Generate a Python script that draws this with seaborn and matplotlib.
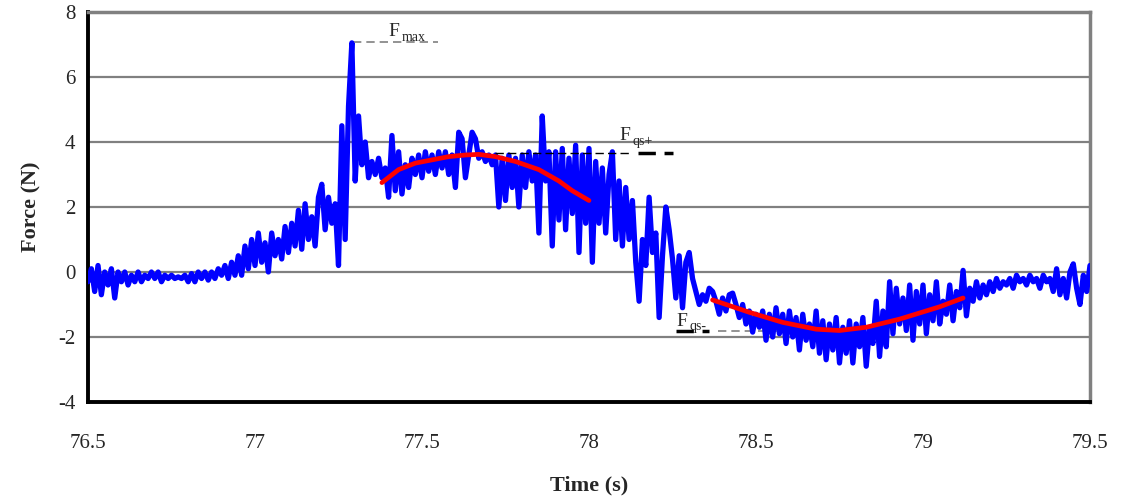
import numpy as np
import pandas as pd
import matplotlib
matplotlib.use("Agg")
import matplotlib.pyplot as plt
import seaborn as sns

# force signal, sampled every 0.01 s from 76.50 s to 79.50 s
t_start = 76.50
dt = 0.01
force = [
    -0.3, 0.1, -0.6, 0.2, -0.7, 0.0, -0.4, 0.1, -0.8, 0.0,
    -0.3, 0.0, -0.4, -0.1, -0.3, 0.0, -0.3, -0.1, -0.2, 0.0,
    -0.2, 0.0, -0.3, -0.1, -0.2, -0.1, -0.2, -0.15, -0.2, -0.1,
    -0.3, -0.05, -0.3, 0.0, -0.2, 0.0, -0.25, 0.0, -0.2, 0.1,
    -0.1, 0.2, -0.2, 0.3, -0.1, 0.5, -0.1, 0.8, 0.1, 1.0,
    0.2, 1.2, 0.3, 0.9, 0.0, 1.2, 0.5, 1.0, 0.4, 1.4,
    0.6, 1.5, 0.8, 1.9, 0.7, 2.1, 1.0, 1.7, 0.8, 2.3,
    2.7, 1.3, 2.3, 1.5, 2.1, 0.2, 4.5, 1.0, 5.1, 7.05,
    2.8, 4.8, 3.3, 4.0, 2.9, 3.4, 3.0, 3.5, 2.9, 3.2,
    2.3, 4.2, 2.5, 3.7, 2.4, 3.3, 2.6, 3.5, 3.0, 3.6,
    2.9, 3.7, 3.1, 3.6, 3.0, 3.7, 3.2, 3.7, 3.0, 3.6,
    2.6, 4.3, 4.1, 2.9, 3.6, 4.3, 4.1, 3.5, 3.7, 3.4,
    3.6, 3.3, 3.6, 2.0, 3.5, 2.2, 3.6, 2.6, 3.5, 2.0,
    3.6, 2.6, 3.7, 2.8, 3.6, 1.2, 4.8, 2.8, 3.7, 0.8,
    3.7, 1.6, 3.8, 1.3, 3.5, 1.8, 3.9, 0.6, 3.6, 1.5,
    3.8, 0.3, 3.4, 1.5, 3.2, 1.2, 3.0, 3.7, 1.0, 2.8,
    0.8, 2.6, 1.0, 2.2, 0.3, -0.9, 1.0, 0.2, 2.3, 0.6,
    1.2, -1.4, 0.5, 2.0, 1.3, 0.4, -0.8, 0.5, -1.1, 0.3,
    0.6, -0.2, -0.6, -1.0, -0.7, -0.9, -0.5, -0.6, -0.9, -1.3,
    -0.8, -1.2, -0.7, -0.65, -1.0, -1.4, -1.0, -1.6, -1.2, -1.85,
    -1.3, -1.7, -1.2, -2.1, -1.3, -2.0, -1.1, -1.9, -1.3, -2.2,
    -1.2, -2.0, -1.4, -2.4, -1.3, -2.1, -1.6, -2.3, -1.2, -2.5,
    -1.5, -2.7, -1.6, -2.4, -1.4, -2.8, -1.7, -2.5, -1.5, -2.8,
    -1.6, -2.3, -1.4, -2.9, -1.7, -2.2, -0.9, -2.6, -1.2, -2.3,
    -0.3, -1.9, -0.5, -1.6, -0.8, -1.8, -0.4, -2.1, -0.6, -1.6,
    -0.4, -1.9, -0.7, -1.5, -0.3, -1.6, -0.9, -1.3, -0.4, -1.5,
    -0.6, -1.1, 0.05, -1.35, -0.5, -0.9, -0.3, -0.8, -0.4, -0.7,
    -0.3, -0.6, -0.2, -0.5, -0.3, -0.4, -0.2, -0.5, -0.1, -0.3,
    -0.2, -0.4, -0.1, -0.3, -0.2, -0.5, -0.1, -0.3, -0.2, -0.6,
    0.1, -0.7, -0.2, -0.8, 0.0, 0.25, -0.5, -1.0, -0.1, -0.6, 0.2,
]

# quasi-static fits (red)
fit_pos_t = [77.38, 77.43, 77.48, 77.53, 77.58, 77.63, 77.67, 77.72, 77.78, 77.85, 77.91, 77.95, 78.00]
fit_pos_f = [2.75, 3.15, 3.35, 3.45, 3.55, 3.60, 3.62, 3.55, 3.40, 3.15, 2.80, 2.50, 2.20]
fit_neg_t = [78.37, 78.48, 78.58, 78.68, 78.75, 78.83, 78.93, 79.05, 79.12]
fit_neg_f = [-0.86, -1.24, -1.55, -1.76, -1.80, -1.70, -1.45, -1.07, -0.80]

# reference levels
f_max = 7.08
f_qs_pos = 3.66
f_qs_neg = -1.82

x_ticks = [76.5, 77.0, 77.5, 78.0, 78.5, 79.0, 79.5]
x_tick_labels = ["76.5", "77", "77.5", "78", "78.5", "79", "79.5"]
y_ticks = [-4, -2, 0, 2, 4, 6, 8]

time = t_start + dt * np.arange(len(force))
signal_df = pd.DataFrame({"time": time, "force": force})
fit_pos_df = pd.DataFrame({"time": fit_pos_t, "force": fit_pos_f})
fit_neg_df = pd.DataFrame({"time": fit_neg_t, "force": fit_neg_f})

sns.set_style("white")
plt.rcParams["font.family"] = ["Liberation Serif", "DejaVu Serif"]
plt.rcParams["axes.unicode_minus"] = False


def level_label(ax, x, y, sub):
    # "F" with a small subscript, drawn as two plain texts
    ax.annotate("F", xy=(x, y), xytext=(0, 0), textcoords="offset points",
                ha="left", va="baseline", fontsize=14)
    ax.annotate(sub, xy=(x, y), xytext=(9.5, -3), textcoords="offset points",
                ha="left", va="baseline", fontsize=10)


fig = plt.figure(figsize=(11.22, 5.04), dpi=100)
ax = fig.add_axes([88 / 1122, 1 - 402 / 504, 1002 / 1122, 390 / 504])

sns.lineplot(data=signal_df, x="time", y="force", ax=ax, color="#0000ff",
             linewidth=3.8, sort=False, estimator=None, zorder=3)
sns.lineplot(data=fit_pos_df, x="time", y="force", ax=ax, color="#ff0000",
             linewidth=3.4, sort=False, estimator=None, zorder=4)
sns.lineplot(data=fit_neg_df, x="time", y="force", ax=ax, color="#ff0000",
             linewidth=3.4, sort=False, estimator=None, zorder=4)

# F_max marker
ax.plot([77.293, 77.548], [f_max, f_max], color="#808080", lw=1.2,
        ls=(0, (5, 3)), zorder=2)
level_label(ax, 77.40, 7.25, "max")

# F_qs+ marker
ax.plot([77.72, 78.125], [f_qs_pos, f_qs_pos], color="black", lw=1.0,
        ls=(0, (6, 3)), zorder=5)
ax.plot([78.147, 78.25], [f_qs_pos, f_qs_pos], color="black", lw=2.5,
        ls=(0, (5, 2.5)), zorder=5)
level_label(ax, 78.09, 4.05, "qs+")

# F_qs- marker
ax.plot([78.26, 78.36], [f_qs_neg, f_qs_neg], color="black", lw=2.5,
        ls=(0, (5, 2.5)), zorder=5)
ax.plot([78.385, 78.76], [f_qs_neg, f_qs_neg], color="#808080", lw=1.2,
        ls=(0, (5, 3)), zorder=2)
level_label(ax, 78.262, -1.67, "qs-")

ax.set_xlim(76.5, 79.5)
ax.set_ylim(-4, 8)
ax.set_xticks(x_ticks)
ax.set_xticklabels(x_tick_labels)
ax.set_yticks(y_ticks)
ax.yaxis.grid(True, color="#808080", linewidth=1.6)
ax.set_axisbelow(True)

for side in ["left", "bottom"]:
    ax.spines[side].set_color("black")
    ax.spines[side].set_linewidth(2.8)
for side in ["top", "right"]:
    ax.spines[side].set_color("#808080")
    ax.spines[side].set_linewidth(2.5)

ax.tick_params(axis="x", direction="out", length=7, width=2, color="black",
               pad=16, labelsize=15)
ax.tick_params(axis="y", direction="out", length=5, width=2, color="black",
               pad=4, labelsize=15)
ax.set_xlabel("Time (s)", fontsize=16, fontweight="bold", labelpad=16)
ax.set_ylabel("Force (N)", fontsize=16, fontweight="bold", labelpad=12)

fig.savefig("out.png", dpi=100)
